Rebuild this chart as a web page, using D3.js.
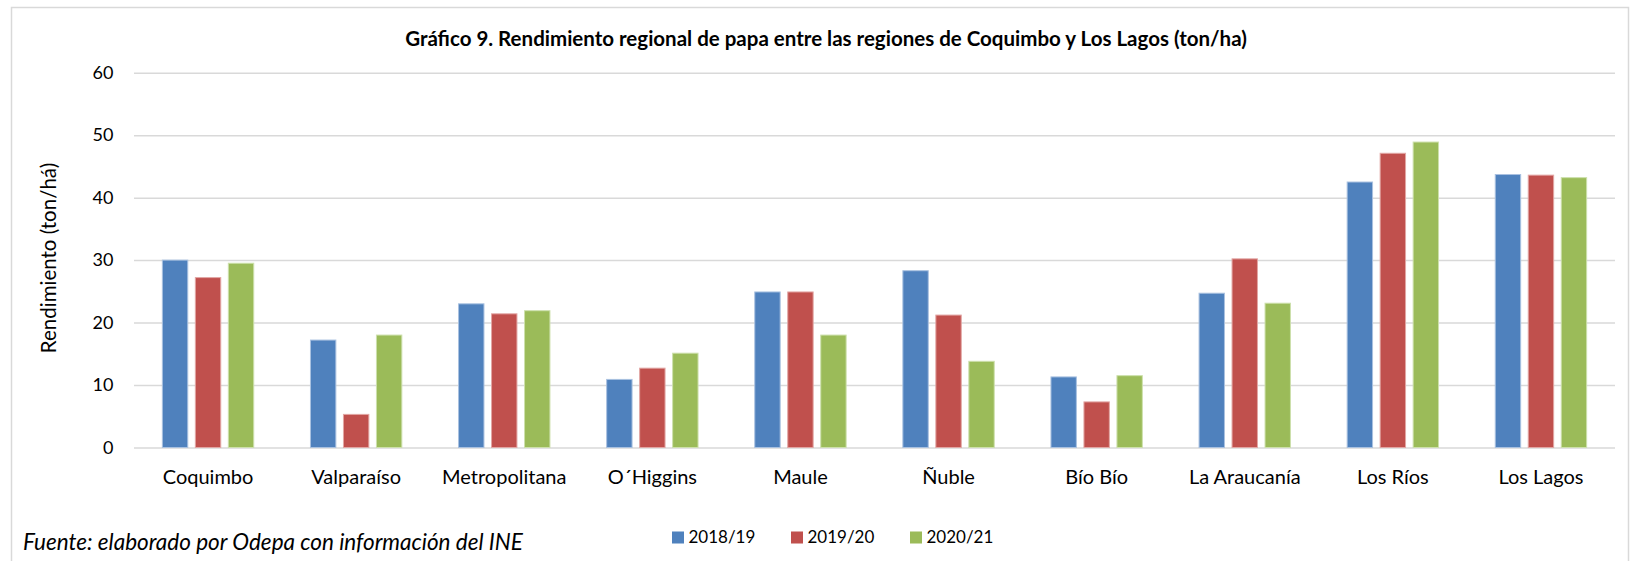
<!DOCTYPE html>
<meta charset="utf-8">
<script src="https://d3js.org/d3.v7.min.js"></script>
<style>
  body { margin: 0; background: #fff; }
  text { font-family: Lato, "Noto Sans", sans-serif; fill: #000; }
</style>
<svg id="chart" width="1634" height="561"></svg>
<script>

// Regions (categories)
var regions = ["Coquimbo", "Valparaíso", "Metropolitana", "O´Higgins", "Maule",
               "Ñuble", "Bío Bío", "La Araucanía", "Los Ríos", "Los Lagos"];

// Seasons (series)
var seasons = ["2018/19", "2019/20", "2020/21"];

// Rendimiento (ton/ha) per season, same order as regions
var v2018 = [30.0, 17.2, 23.0, 10.9, 24.9, 28.3, 11.3, 24.7, 42.5, 43.7];
var v2019 = [27.2, 5.3, 21.4, 12.7, 24.9, 21.2, 7.3, 30.2, 47.1, 43.6];
var v2020 = [29.5, 18.0, 21.9, 15.1, 18.0, 13.8, 11.5, 23.1, 48.9, 43.2];

var yTicks = [0, 10, 20, 30, 40, 50, 60];
var colors = ["#4F81BD", "#C0504D", "#9BBB59"];
var strokes = ["#a9c1e0", "#e2a6a4", "#cde0ac"];

var series = [v2018, v2019, v2020];

var svg = d3.select("#chart");

// outer frame
svg.append("rect")
  .attr("x", 11.5).attr("y", 7.5)
  .attr("width", 1617).attr("height", 560)
  .attr("fill", "none")
  .attr("stroke", "#d9d9d9")
  .attr("stroke-width", 1.5);

// scales
var x0 = d3.scaleBand()
  .domain(regions)
  .range([134, 1615])
  .paddingInner(0.383)
  .paddingOuter(0.1915);

var x1 = d3.scaleBand()
  .domain(seasons)
  .range([0, x0.bandwidth()])
  .paddingInner(0.23)
  .paddingOuter(0);

var y = d3.scaleLinear()
  .domain([0, 60])
  .range([447.5, 72.7]);

// gridlines + y labels
var yAxis = d3.axisLeft(y)
  .tickValues(yTicks)
  .tickSize(-(1615 - 134))
  .tickPadding(20);

var gy = svg.append("g")
  .attr("transform", "translate(134,0)")
  .call(yAxis);
gy.select(".domain").remove();
gy.selectAll(".tick line")
  .attr("stroke", "#d9d9d9")
  .attr("stroke-width", 1.5);
gy.selectAll(".tick text")
  .attr("font-size", 18)
  .attr("x", -20.5)
  .style("font-family", "Lato, sans-serif");

// category labels
var gx = svg.append("g")
  .attr("transform", "translate(0,447.5)")
  .call(d3.axisBottom(x0).tickSize(0).tickPadding(0));
gx.select(".domain").remove();
gx.selectAll(".tick text")
  .attr("font-size", 20)
  .attr("dy", null)
  .attr("y", 36.5)
  .style("font-family", "Lato, sans-serif");

// bars
var groups = svg.append("g")
  .selectAll("g")
  .data(regions)
  .enter()
  .append("g")
    .attr("transform", function(d) { return "translate(" + x0(d) + ",0)"; });

groups.selectAll("rect")
  .data(function(d, i) {
    return seasons.map(function(s, j) { return {season: s, idx: j, value: series[j][i]}; });
  })
  .enter()
  .append("rect")
    .attr("x", function(d) { return x1(d.season); })
    .attr("y", function(d) { return y(d.value); })
    .attr("width", x1.bandwidth())
    .attr("height", function(d) { return y(0) - y(d.value); })
    .attr("fill", function(d) { return colors[d.idx]; })
    .attr("stroke", function(d) { return strokes[d.idx]; })
    .attr("stroke-width", 1);

// title
svg.append("text")
  .attr("x", 826)
  .attr("y", 45.5)
  .attr("text-anchor", "middle")
  .attr("font-size", 20.5)
  .attr("font-weight", "bold")
  .text("Gráfico 9. Rendimiento regional de papa entre las regiones de Coquimbo y Los Lagos (ton/ha)");

// y axis title
svg.append("text")
  .attr("transform", "translate(56,258) rotate(-90)")
  .attr("text-anchor", "middle")
  .attr("font-size", 20.5)
  .text("Rendimiento (ton/há)");

// legend
var legend = svg.append("g")
  .selectAll("g")
  .data(seasons)
  .enter()
  .append("g")
    .attr("transform", function(d, i) { return "translate(" + (672 + i * 119) + ",531.5)"; });

legend.append("rect")
  .attr("width", 12)
  .attr("height", 12)
  .attr("fill", function(d, i) { return colors[i]; });

legend.append("text")
  .attr("x", 16.5)
  .attr("y", 6)
  .attr("dy", "0.35em")
  .attr("font-size", 17)
  .text(function(d) { return d; });

// source note
svg.append("text")
  .attr("x", 23)
  .attr("y", 550)
  .attr("font-size", 22.5)
  .attr("font-style", "italic")
  .text("Fuente: elaborado por Odepa con información del INE");

</script>
